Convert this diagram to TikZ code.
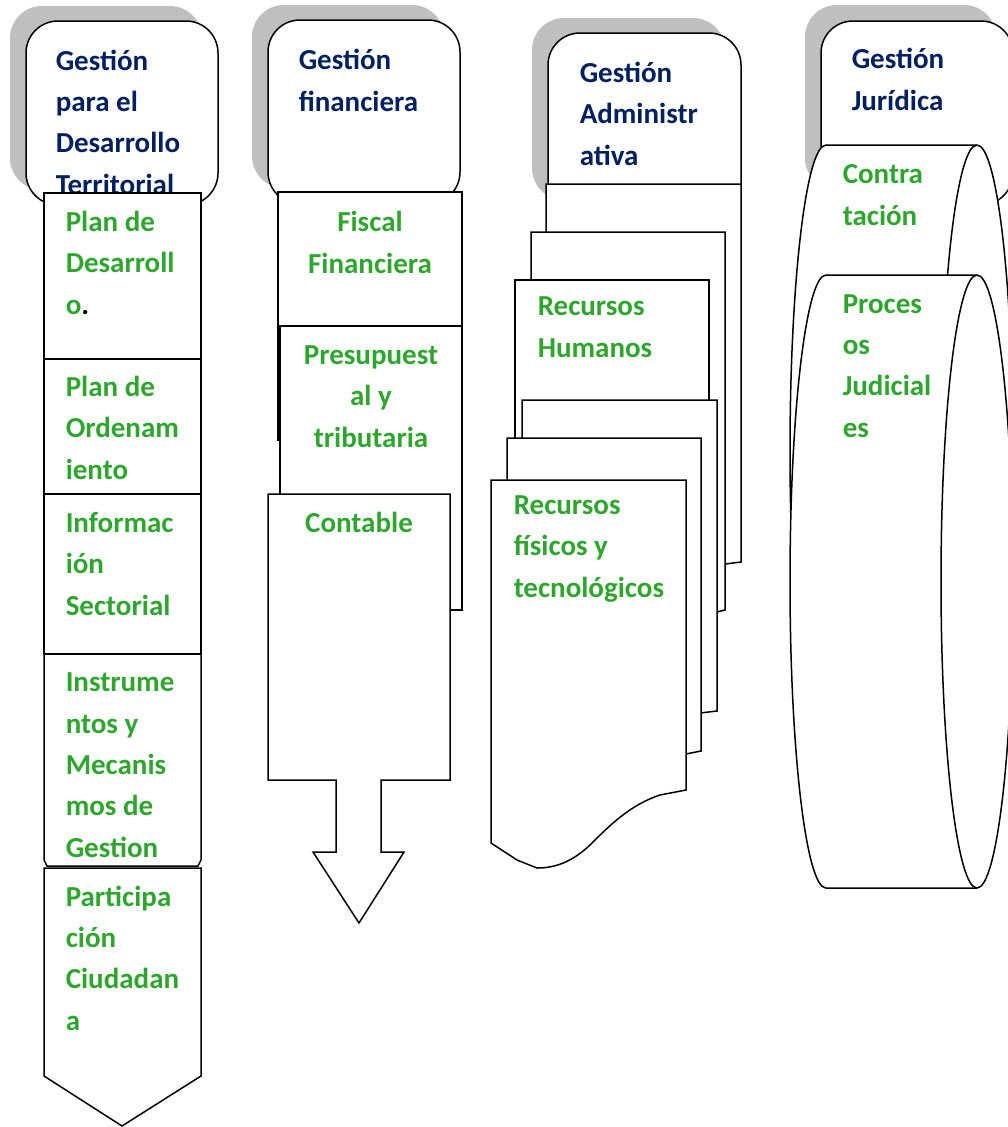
\documentclass[tikz,border=0pt]{standalone}
\usepackage{fontspec}
\setmainfont{Carlito}
\definecolor{ttlblue}{RGB}{0,32,96}
\definecolor{itemgreen}{RGB}{46,166,46}
\definecolor{shadowgray}{RGB}{191,191,191}
\begin{document}
\begin{tikzpicture}[x=1pt,y=-1pt, line width=1.5pt, line join=miter,
  shadowbox/.style={fill=shadowgray, draw=none, rounded corners=32pt},
  headbox/.style={fill=white, draw=black, rounded corners=32pt},
  part/.style={fill=white, draw=black},
  ttl/.style={font=\bfseries\fontsize{29}{41.3}\selectfont, text=ttlblue, align=left, anchor=base west, inner sep=0pt},
  itm/.style={font=\bfseries\fontsize{29}{41.3}\selectfont, text=itemgreen, align=left, anchor=base west, inner sep=0pt},
  itmc/.style={itm, align=center, anchor=base}]
\clip (0,0) rectangle (1008,1127);
\fill[white] (0,0) rectangle (1008,1127);
% ---------------- column 1
\fill[shadowbox] (10,6) rectangle (202,190);
\draw[headbox] (26,21) rectangle (218,205);
\node[ttl] (t1) at (55,194) {Gestión\\para el\\Desarrollo\\Territorial};
\draw[part] (44,193) rectangle (201,359);
\draw[part] (44,359) rectangle (201,494);
\draw[part] (44,494) rectangle (201,654);
\draw[part] (44,654) -- (201,654) -- (201,860) -- (198,866) -- (47,866) -- (44,860) -- cycle;
\draw[part] (44,868) -- (201,868) -- (201,1076) -- (122,1126) -- (44,1076) -- cycle;
\node[itm] (c1a) at (65,314) {Plan de\\Desarroll\\o{\color{black}.}};
\node[itm] (c1b) at (65,479) {Plan de\\Ordenam\\iento};
\node[itm] (c1c) at (65,615) {Informac\\ión\\Sectorial};
\node[itm] (c1d) at (65,857) {Instrume\\ntos y\\Mecanis\\mos de\\Gestion};
\node[itm] (c1e) at (65,1030) {Participa\\ción\\Ciudadan\\a};
% ---------------- column 2
\fill[shadowbox] (252,5) rectangle (444,188);
\draw[headbox] (268,20) rectangle (460,204);
\node[ttl] (t2) at (298,111) {Gestión\\financiera};
\draw[part] (278,192) rectangle (462,440);
\draw[part] (280,326) rectangle (462,610);
\draw[part] (268,494) -- (450,494) -- (450,780) -- (381,780) -- (381,852) -- (404,852)
   -- (359,923) -- (313,852) -- (336,852) -- (336,780) -- (268,780) -- cycle;
\node[itmc] (c2a) at (370,273) {Fiscal\\Financiera};
\node[itmc] (c2b) at (371,447) {Presupuest\\al y\\tributaria};
\node[itmc] (c2c) at (359,532) {Contable};
% ---------------- column 3
\fill[shadowbox] (532,18) rectangle (725,200);
\draw[headbox] (548,33) rectangle (741,217);
\node[ttl] (t3) at (579,165) {Gestión\\Administr\\ativa};
\draw[part] (546,184) -- (741,184) -- (741,562) -- (725,564) -- (546,564) -- cycle;
\draw[part] (531,232) -- (725,232) -- (725,610) -- (717,612) -- (531,612) -- cycle;
\draw[part] (515,280) rectangle (709,700);
\node[itm] (c3a) at (537,357) {Recursos\\Humanos};
\draw[part] (522,400) -- (717,400) -- (717,711) -- (700,713) -- (522,713) -- cycle;
\draw[part] (507,438) -- (701,438) -- (701,751) -- (686,754) -- (507,754) -- cycle;
\draw[part] (491,480) -- (686,480) -- (686,790) -- (660,795)
   .. controls (630,805) and (610,825) .. (590,845)
   .. controls (572,862) and (555,868) .. (537,868)
   -- (517,860) -- (491,843) -- cycle;
\node[itm] (c3b) at (513,597) {Recursos\\físicos y\\tecnológicos};
% ---------------- column 4
\fill[shadowbox] (805,5) rectangle (996,190);
\draw[headbox] (821,21) rectangle (1013,205);
\node[ttl] (t4) at (851,110) {Gestión\\Jurídica};
\draw[part] (826,145) .. controls (806.1,145) and (790,282.2) .. (790,451.5)
   .. controls (790,620.8) and (806.1,758) .. (826,758) -- (977,758)
   .. controls (996.9,758) and (1013,620.8) .. (1013,451.5)
   .. controls (1013,282.2) and (996.9,145) .. (977,145) -- cycle;
\draw (977,145) .. controls (957.1,145) and (941,282.2) .. (941,451.5)
   .. controls (941,620.8) and (957.1,758) .. (977,758);
\node[itm] (c4a) at (842,225) {Contra\\tación};
\draw[part] (826,275) .. controls (806.1,275) and (790,412.2) .. (790,581.5)
   .. controls (790,750.8) and (806.1,888) .. (826,888) -- (977,888)
   .. controls (996.9,888) and (1013,750.8) .. (1013,581.5)
   .. controls (1013,412.2) and (996.9,275) .. (977,275) -- cycle;
\draw (977,275) .. controls (957.1,275) and (941,412.2) .. (941,581.5)
   .. controls (941,750.8) and (957.1,888) .. (977,888);
\node[itm] (c4b) at (842,437) {Proces\\os\\Judicial\\es};
\end{tikzpicture}
\end{document}
